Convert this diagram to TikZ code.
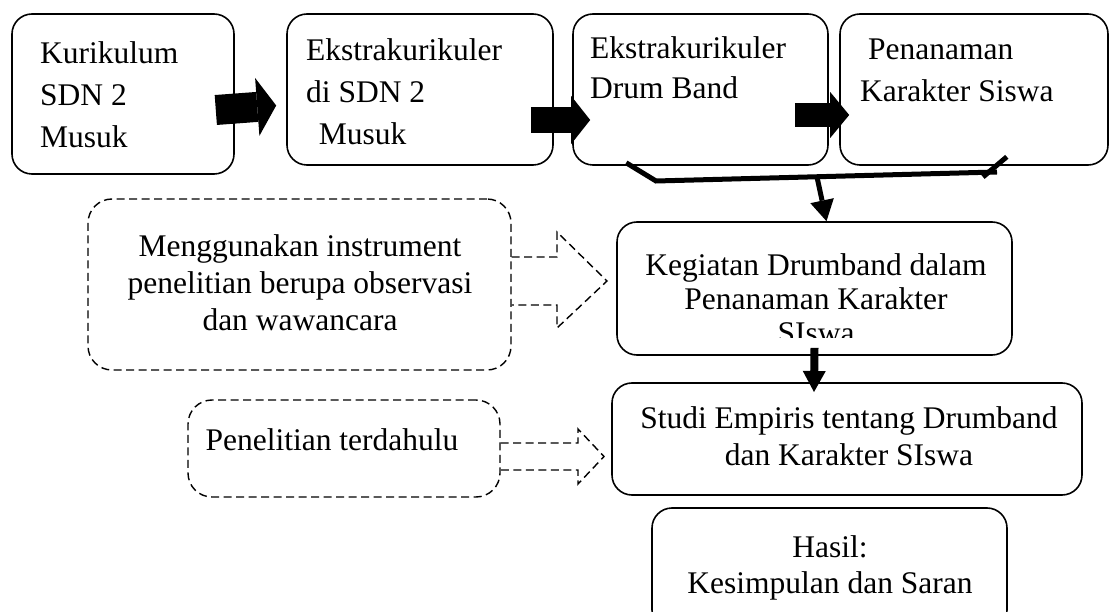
\documentclass[tikz,border=0pt]{standalone}
\usepackage{fontspec}
\setmainfont{Liberation Serif}
\usetikzlibrary{arrows.meta,%
                positioning}

\begin{document}
\begin{tikzpicture}[x = 1pt, y = -1pt]
  \useasboundingbox (0,0) rectangle (1117,612);
  \clip (0,0) rectangle (1117,612);
  \tikzset{BoxStyle/.style      = {draw,
                                   line width      = 1.6pt,
                                   rounded corners = 20pt,
                                   inner sep       = 0pt}}
  \tikzset{DashBoxStyle/.style  = {BoxStyle,
                                   line width      = 1.4pt,
                                   dash pattern    = on 8pt off 4.5pt,
                                   rounded corners = 24pt}}
  \tikzset{TextStyle/.style     = {inner sep       = 0pt,
                                   font            = \fontsize{31.5}{42}\selectfont}}
  \tikzset{FatArrowStyle/.style 2 args = {line width = #1,
                                   -{Triangle[length = 19pt, width = #2, line width = 0pt]}}}
  \tikzset{BarStyle/.style      = {line width      = 5pt}}
  \tikzset{DownArrowStyle/.style 2 args = {line width = #1,
                                   -{Triangle[length = 21pt, width = #2, line width = 0pt]}}}
  \tikzset{DashArrowStyle/.style = {line width     = 1.4pt,
                                   dash pattern    = on 8pt off 4.5pt}}
     % top row
     \node[BoxStyle, minimum width = 222, minimum height = 160](kur) at (123,94) {};
     \node[TextStyle, anchor = north west, align = left](kurtext) at (40,41.5)
          {Kurikulum\\SDN 2\\Musuk};
     \node[BoxStyle, minimum width = 266, minimum height = 151](eks) at (420,89.5) {};
     \node[TextStyle, anchor = north west, align = left](ekstext) at (306,38.5)
          {Ekstrakurikuler\\di SDN 2\\\hspace*{0.4em}Musuk};
     \node[BoxStyle, minimum width = 255, minimum height = 151](drum) at (700.5,89.5) {};
     \node[TextStyle, anchor = north west, align = left,
           font = \fontsize{31.5}{40}\selectfont](drumtext) at (590,36.5)
          {Ekstrakurikuler\\Drum Band};
     \node[BoxStyle, minimum width = 268, minimum height = 151](pen) at (974,89.5) {};
     \node[TextStyle, anchor = north west, align = left](pentext) at (860,38.5)
          {\hspace*{0.25em}Penanaman\\Karakter Siswa};
     % middle and bottom
     \node[BoxStyle, minimum width = 395, minimum height = 133](keg) at (814.5,288.5) {};
     \begin{scope}
       \clip (600,200) rectangle (1030,338);
       \node[TextStyle, anchor = north, align = center,
             font = \fontsize{31.5}{34}\selectfont](kegtext) at (816,253.5)
            {Kegiatan Drumband dalam\\Penanaman Karakter\\SIswa};
     \end{scope}
     \node[DashBoxStyle, minimum width = 423, minimum height = 171](instr) at (299.5,284.5) {};
     \node[TextStyle, anchor = north, align = center,
           font = \fontsize{31.5}{37}\selectfont](instrtext) at (300,234.5)
          {Menggunakan instrument\\penelitian berupa observasi\\dan wawancara};
     \node[BoxStyle, minimum width = 470, minimum height = 112](studi) at (847,439) {};
     \node[TextStyle, anchor = north, align = center,
           font = \fontsize{31.5}{37}\selectfont](studitext) at (849,406.5)
          {Studi Empiris tentang Drumband\\dan Karakter SIswa};
     \node[DashBoxStyle, minimum width = 312, minimum height = 97](terd) at (344,448.5) {};
     \node[TextStyle, anchor = base](terdtext) at (332,450) {Penelitian terdahulu};
     \node[BoxStyle, minimum width = 355, minimum height = 122](hasil) at (829.5,569) {};
     \node[TextStyle, anchor = north, align = center,
           font = \fontsize{31.5}{36}\selectfont](hasiltext) at (830,535.5)
          {Hasil:\\Kesimpulan dan Saran};
     % connectors
     \draw[FatArrowStyle = {30pt}{58pt}]([xshift = -19, yshift = -16]kur.east)
          -- ([xshift = -10, yshift = -16]eks.west);
     \draw[FatArrowStyle = {26pt}{48pt}]([xshift = -23, yshift = -30.5]eks.east)
          -- ([xshift = 18, yshift = -30.5]drum.west);
     \draw[FatArrowStyle = {24pt}{46pt}]([xshift = -34, yshift = -25.5]drum.east)
          -- ([xshift = 10, yshift = -25.5]pen.west);
     \coordinate (barL) at (656,181);
     \coordinate (barR) at (997,172);
     \coordinate (barM) at (817,177);
     \draw[BarStyle]([xshift = 54, yshift = 3]drum.south west) -- (barL) -- (barR);
     \draw[BarStyle]([xshift = -102, yshift = 9]pen.south east) -- (983,177);
     \draw[DownArrowStyle = {5pt}{24pt}](barM) -- ([xshift = 12]keg.north);
     \coordinate (studiTip) at (814,392);
     \draw[DownArrowStyle = {8pt}{23pt}]([yshift = 8]keg.south) -- (studiTip);
     \draw[DashArrowStyle]([yshift = 27.5]instr.east) -- (557,257) -- (557,232)
          -- (607,281) -- (557,328) -- (557,305) -- ([yshift = -20.5]instr.east);
     \draw[DashArrowStyle]([yshift = 5.5]terd.east) -- (578,443) -- (578,429)
          -- (604,456.5) -- (578,484) -- (578,470) -- ([yshift = -21.5]terd.east);
\end{tikzpicture}
\end{document}
